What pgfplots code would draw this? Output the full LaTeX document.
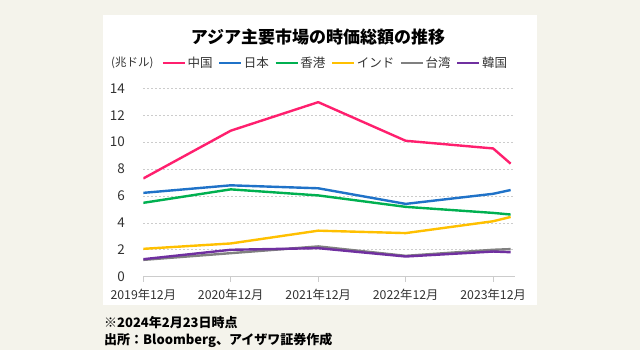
\documentclass[border=0pt]{standalone}
\usepackage{pgfplots}
\pgfplotsset{compat=1.18}
\usepackage{fontspec}
\setmainfont{Noto Sans CJK JP}
\definecolor{bg}{HTML}{F4F3EB}
\definecolor{cCN}{HTML}{FF1F6E}
\definecolor{cJP}{HTML}{1F72C8}
\definecolor{cHK}{HTML}{00B050}
\definecolor{cIN}{HTML}{FFC000}
\definecolor{cTW}{HTML}{808080}
\definecolor{cKR}{HTML}{7030A0}
\begin{document}
\begin{tikzpicture}[x=1pt,y=1pt]
\fill[bg] (0,0) rectangle (640,350);
\fill[white] (103,45) rectangle (537,335);
\begin{axis}[
  at={(143.3pt,73.3pt)}, anchor=south west,
  scale only axis, width=371.7pt, height=188.4pt,
  xmin=0, xmax=4.25, ymin=0, ymax=14,
  axis x line*=bottom, axis y line*=left,
  y axis line style={draw=none},
  x axis line style={draw=black!20, line width=0.8pt, -},
  xtick={0,1,2,3,4},
  xticklabels={2019年12月,2020年12月,2021年12月,2022年12月,2023年12月},
  ytick={0,2,...,14},
  ymajorgrids, grid style={black!20, dash pattern=on 2pt off 2pt, line width=0.6pt},
  tick align=outside,
  major tick length=5pt,
  xtick style={draw=black!20, line width=0.8pt},
  ytick style={draw=none},
  tick label style={text=black!80},
  /pgf/number format/assume math mode=true,
  yticklabel style={anchor=east, xshift=-10pt, font=\fontsize{13.5}{14}\selectfont},
  xticklabel style={yshift=-4pt, font=\fontsize{12.3}{13}\selectfont},
  legend style={at={(0.516,1.134)}, anchor=center, draw=none, fill=none,
    legend columns=-1, font=\fontsize{12.5}{13}\selectfont, text=black!80,
    nodes={inner sep=1.5pt},
    /tikz/every even column/.append style={column sep=4pt}},
  legend image code/.code={\draw[#1] (0pt,0pt) -- (22pt,0pt);},
  every axis plot/.append style={line width=2.4pt, line join=round},
]
\addplot[cCN] coordinates {(0,7.3) (1,10.85) (2,12.97) (3,10.1) (4,9.53) (4.2,8.4)};
\addlegendentry{中国}
\addplot[cJP] coordinates {(0,6.23) (1,6.79) (2,6.57) (3,5.41) (4,6.16) (4.2,6.44)};
\addlegendentry{日本}
\addplot[cHK] coordinates {(0,5.49) (1,6.49) (2,6.04) (3,5.19) (4,4.74) (4.2,4.62)};
\addlegendentry{香港}
\addplot[cIN] coordinates {(0,2.07) (1,2.47) (2,3.42) (3,3.24) (4,4.12) (4.2,4.44)};
\addlegendentry{インド}
\addplot[cTW] coordinates {(0,1.25) (1,1.75) (2,2.25) (3,1.55) (4,2.0) (4.2,2.05)};
\addlegendentry{台湾}
\addplot[cKR] coordinates {(0,1.3) (1,2.0) (2,2.12) (3,1.5) (4,1.87) (4.2,1.82)};
\addlegendentry{韓国}
\end{axis}
\node[font=\bfseries\fontsize{17}{20}\selectfont] at (318,312.5) {アジア主要市場の時価総額の推移};
\node[anchor=west, inner sep=0pt, font=\fontsize{11.5}{12}\selectfont, text=black!80] at (111,287) {(兆ドル)};
\node[anchor=west, inner sep=0pt, font=\bfseries\fontsize{13}{14}\selectfont] at (104,27) {※2024年2月23日時点};
\node[anchor=west, inner sep=0pt, font=\bfseries\fontsize{13}{14}\selectfont] at (104,10) {出所：Bloomberg、アイザワ証券作成};
\pgfresetboundingbox
\useasboundingbox (0,0) rectangle (640,350);
\end{tikzpicture}
\end{document}
